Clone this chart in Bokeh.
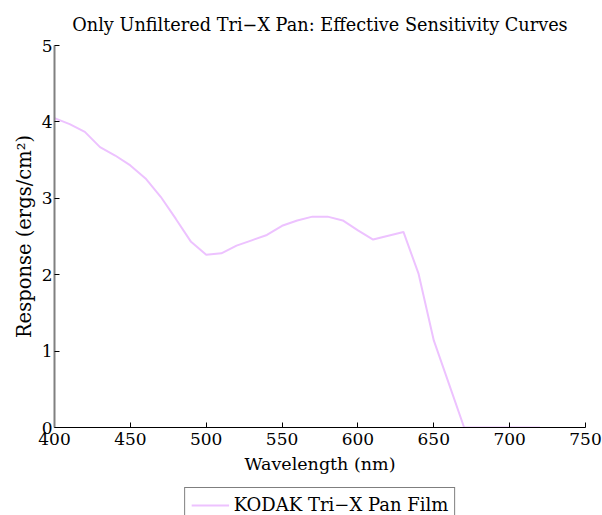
from bokeh.plotting import figure
from bokeh.models import Legend, LegendItem, FixedTicker, Range1d
from bokeh.layouts import column
from bokeh.embed import file_html
from bokeh.resources import INLINE

wavelength = [400, 410, 420, 430, 440, 450, 460, 470, 480, 490, 500, 510, 520, 530,
              540, 550, 560, 570, 580, 590, 600, 610, 620, 630, 640, 650, 660, 670,
              680, 690, 700, 710, 720]
response = [4.05, 3.97, 3.87, 3.67, 3.56, 3.43, 3.26, 3.02, 2.73, 2.43, 2.26, 2.28, 2.38, 2.45,
            2.52, 2.64, 2.71, 2.76, 2.76, 2.71, 2.58, 2.46, 2.51, 2.56, 2.01, 1.14, 0.57, 0.0,
            0.0, 0.0, 0.0, 0.0, 0.0]
x_ticks = [400, 450, 500, 550, 600, 650, 700, 750]
y_ticks = [0, 1, 2, 3, 4, 5]
series_name = "KODAK Tri\u2212X Pan Film"
title_text = "Only Unfiltered Tri\u2212X Pan: Effective Sensitivity Curves"

FONT = "DejaVu Serif"
FS = "17px"
LINE_COLOR = "#EDC2FF"

p = figure(width=602, height=487, output_backend="svg", toolbar_location=None,
           x_range=Range1d(400, 750), y_range=Range1d(0, 5),
           min_border_left=54, min_border_right=17, min_border_top=45, min_border_bottom=60)
p.title.text = title_text
p.title.align = "center"
p.title.text_font = FONT
p.title.text_font_size = "17.7px"
p.title.text_font_style = "normal"
p.title.text_color = "black"
p.title.offset = 0
p.title.standoff = 22

p.outline_line_color = None
p.grid.visible = False
p.background_fill_color = "white"
p.border_fill_color = "white"

p.line(wavelength, response, line_color=LINE_COLOR, line_width=2)

for ax in (p.xaxis[0], p.yaxis[0]):
    ax.major_tick_in = 5
    ax.major_tick_out = 0
    ax.minor_tick_in = 0
    ax.minor_tick_out = 0
    ax.major_label_text_font = FONT
    ax.major_label_text_font_size = FS
    ax.major_label_text_color = "black"
    ax.axis_label_text_font = FONT
    ax.axis_label_text_font_size = FS
    ax.axis_label_text_font_style = "normal"
    ax.axis_label_text_color = "black"
    ax.major_tick_line_color = "black"

p.xaxis.ticker = FixedTicker(ticks=x_ticks)
p.yaxis.ticker = FixedTicker(ticks=y_ticks)
p.xaxis.axis_label = "Wavelength (nm)"
p.yaxis.axis_label = "Response (ergs/cm\u00b2)"
p.xaxis.axis_label_text_font = FONT
p.xaxis.axis_label_text_font_size = "17.5px"
p.yaxis.axis_label_text_font = FONT
p.yaxis.axis_label_text_font_size = "19.5px"
p.xaxis.major_label_standoff = 5
p.yaxis.major_label_standoff = 2
p.xaxis.axis_label_standoff = 6
p.yaxis.axis_label_standoff = 3
p.xaxis.axis_line_color = "black"
p.yaxis.axis_line_color = "#808080"
p.yaxis.axis_line_width = 2

# legend strip below the chart (same frame borders so the column aligns)
p2 = figure(width=602, height=28, output_backend="svg", toolbar_location=None,
            x_range=Range1d(0, 1), y_range=Range1d(0, 1),
            x_axis_location=None, y_axis_location=None,
            min_border_left=54, min_border_right=17, min_border_top=0, min_border_bottom=0)
p2.outline_line_color = None
p2.grid.visible = False
p2.background_fill_color = "white"
p2.border_fill_color = "white"
# same series, outside this strip's ranges: only its legend key shows
key_line = p2.line(wavelength, response, line_color=LINE_COLOR, line_width=2)
legend = Legend(items=[LegendItem(label=series_name, renderers=[key_line])],
                location="top_center", orientation="vertical")
legend.label_text_font = FONT
legend.label_text_font_size = "18px"
legend.label_text_color = "black"
legend.border_line_color = "black"
legend.border_line_width = 1
legend.glyph_width = 38
legend.padding = 6
legend.margin = 0
legend.spacing = 0
legend.label_standoff = 5
legend.background_fill_alpha = 1
p2.add_layout(legend, "center")

layout = column(p, p2, spacing=0)
open("out.html", "w").write(file_html(layout, INLINE))
